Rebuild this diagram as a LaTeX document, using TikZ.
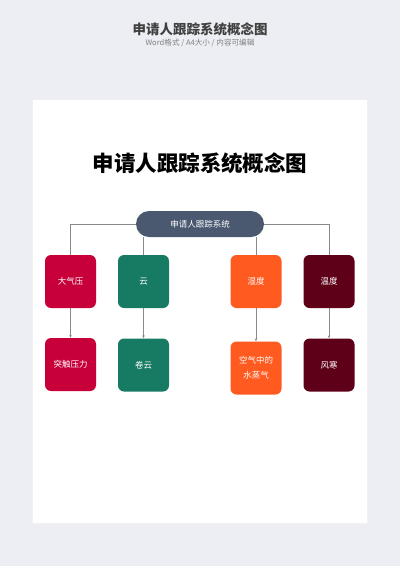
\documentclass[tikz,border=0pt]{standalone}
\usepackage{fontspec}
\setmainfont{Noto Sans CJK SC}
\newfontfamily\cjk{Noto Sans CJK SC}
\usetikzlibrary{arrows.meta}
\definecolor{bgc}{HTML}{ECEEF3}
\definecolor{rootc}{HTML}{4A5870}
\definecolor{redc}{HTML}{C8003A}
\definecolor{greenc}{HTML}{177A62}
\definecolor{orangec}{HTML}{FF5A1F}
\definecolor{maroonc}{HTML}{5E0018}
\definecolor{linec}{HTML}{8A8A8A}
\tikzset{
  box/.style={rounded corners=6pt, minimum width=51pt, minimum height=53pt, inner sep=0pt, text=white, font=\cjk\fontsize{8.5}{14.5}\selectfont, align=center},
  conn/.style={draw=linec, line width=0.6pt},
  arr/.style={conn, -{Stealth[length=3pt,width=2.5pt]}}
}
\begin{document}
\begin{tikzpicture}[x=1pt,y=-1pt]
\fill[bgc] (0,0) rectangle (400,566);
\useasboundingbox (0,0) rectangle (400,566);
\fill[black!6] (32,99) rectangle (368,524);
\fill[white] (33,100) rectangle (367,523);
\node[font=\cjk\bfseries\fontsize{13.5}{15}\selectfont, text=black!75] (hdr) at (200,29) {申请人跟踪系统概念图};
\node[font=\cjk\fontsize{7.6}{8}\selectfont, text=black!50] (sub) at (200,43) {Word格式 / A4大小 / 内容可编辑};
\node[font=\cjk\bfseries\fontsize{21.5}{24}\selectfont, text=black] (title) at (200,163) {申请人跟踪系统概念图};
\node[fill=rootc, rounded corners=13pt, minimum width=128pt, minimum height=26pt, inner sep=0pt, text=white, font=\cjk\fontsize{8.5}{10}\selectfont] (root) at (200,224) {申请人跟踪系统};
\node[box, fill=redc] (a1) at (70.5,281.5) {大气压};
\node[box, fill=greenc] (b1) at (143.5,281.5) {云};
\node[box, fill=orangec] (c1) at (256,281.5) {湿度};
\node[box, fill=maroonc] (d1) at (329,281.5) {温度};
\node[box, fill=redc] (a2) at (70.5,364.5) {突触压力};
\node[box, fill=greenc] (b2) at (143.5,365) {卷云};
\node[box, fill=orangec] (c2) at (256,368) {空气中的\\水蒸气};
\node[box, fill=maroonc] (d2) at (329,365) {风寒};
\draw[conn] (root.west) -| (a1.north);
\draw[conn] (root.east) -| (d1.north);
\draw[conn] (root.south -| b1.north) -- (b1.north);
\draw[conn] (root.south -| c1.north) -- (c1.north);
\draw[arr] (a1) -- (a2);
\draw[arr] (b1) -- (b2);
\draw[arr] (c1) -- (c2);
\draw[arr] (d1) -- (d2);
\end{tikzpicture}
\end{document}
